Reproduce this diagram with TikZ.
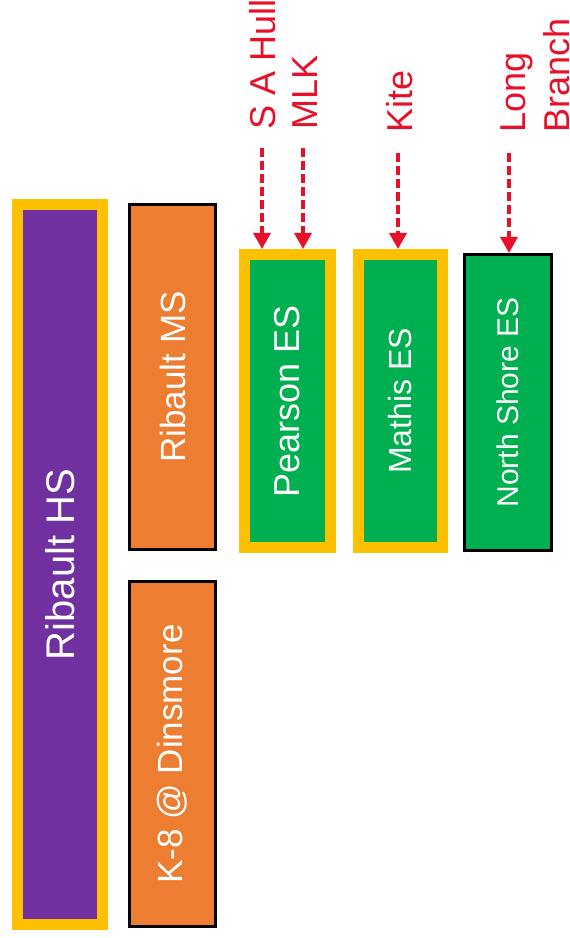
\documentclass[tikz,border=0pt]{standalone}
\usepackage{fontspec}
\setmainfont{Liberation Sans}
\usetikzlibrary{arrows.meta}
\definecolor{hsPurple}{RGB}{112,48,160}
\definecolor{msOrange}{RGB}{237,125,49}
\definecolor{esGreen}{RGB}{0,176,80}
\definecolor{goldBorder}{RGB}{255,192,0}
\definecolor{feedRed}{RGB}{232,16,40}
\begin{document}
\begin{tikzpicture}[x=1pt,y=1pt,
  schoolbox/.style={rectangle, rotate=90, inner sep=0pt, text=white},
  gold/.style={schoolbox, draw=goldBorder, line width=11pt, outer sep=5.5pt},
  plain/.style={schoolbox, draw=black, line width=3pt, outer sep=1.5pt},
  feeder/.style={text=feedRed, rotate=90, anchor=west, inner sep=0pt, font=\fontsize{36}{44}\selectfont, align=left},
  feedarrow/.style={draw=feedRed, line width=3.5pt, dash pattern=on 9pt off 4pt, -{Triangle[width=17pt,length=16pt]}}]
\useasboundingbox (0,0) rectangle (570,938);
\node[gold, fill=hsPurple, minimum width=720pt, minimum height=85pt, font=\fontsize{40}{48}\selectfont] (hs) at (60,373.5) {Ribault HS};
\node[plain, fill=msOrange, minimum width=345pt, minimum height=86pt, font=\fontsize{35}{42}\selectfont] (ms) at (172.5,561) {Ribault MS};
\node[plain, fill=msOrange, minimum width=345pt, minimum height=86pt, font=\fontsize{35}{42}\selectfont] (k8) at (172.5,184) {K-8 @ Dinsmore};
\node[gold, fill=esGreen, minimum width=293pt, minimum height=86pt, font=\fontsize{36}{42}\selectfont] (pearson) at (287.5,537) {Pearson ES};
\node[gold, fill=esGreen, minimum width=293pt, minimum height=84pt, font=\fontsize{32}{40}\selectfont] (mathis) at (400.5,537) {Mathis ES};
\node[plain, fill=esGreen, minimum width=296pt, minimum height=87pt, font=\fontsize{30}{36}\selectfont] (north) at (508,535.5) {North Shore ES};
\node[feeder] (hull) at (262.5,808) {S A Hull};
\node[feeder] (mlk) at (305,808) {MLK};
\node[feeder] (kite) at (400,805) {Kite};
\node[feeder] (longbr) at (535,805) {Long\\Branch};
\coordinate (hullA) at (262,790);
\coordinate (mlkA) at (303,790);
\coordinate (kiteA) at (398,785);
\coordinate (longA) at (509,785);
\draw[feedarrow] (hullA) -- (hullA |- pearson.east);
\draw[feedarrow] (mlkA) -- (mlkA |- pearson.east);
\draw[feedarrow] (kiteA) -- (kiteA |- mathis.east);
\draw[feedarrow] (longA) -- (longA |- north.east);
\end{tikzpicture}
\end{document}
